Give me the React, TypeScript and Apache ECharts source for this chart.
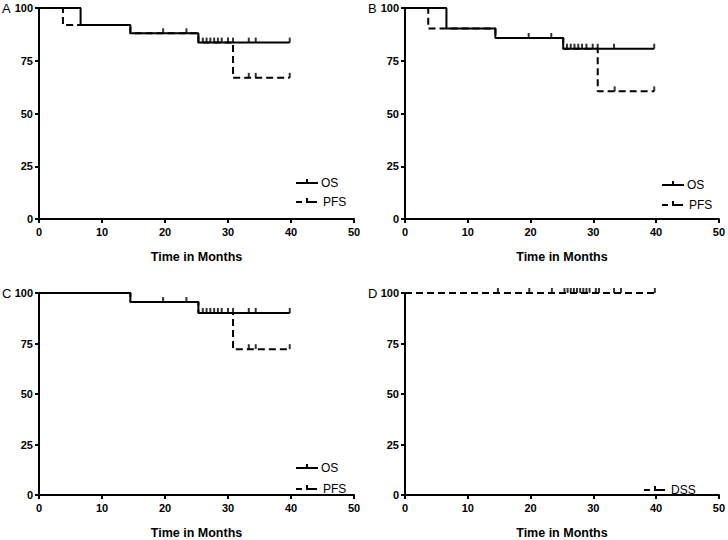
import React, { useEffect, useRef } from "react";
import * as echarts from "echarts";

// ---- Data (Kaplan–Meier steps: [month, survival %]) ----
const panelLetters = ["A", "B", "C", "D"];

const aOS = [[0, 100], [6.6, 92], [14.5, 88], [25.3, 83.6], [39.8, 83.6]];
const aPFS = [[0, 100], [3.8, 92], [14.5, 88], [25.3, 83.6], [30.8, 66.9], [39.8, 66.9]];
const aOSCensor = [[19.7, 88], [23.4, 88], [26.0, 83.6], [26.6, 83.6], [27.2, 83.6], [27.8, 83.6], [28.4, 83.6], [29.0, 83.6], [30.0, 83.6], [30.8, 83.6], [33.3, 83.6], [34.4, 83.6], [39.8, 83.6]];
const aPFSCensor = [[33.3, 66.9], [34.4, 66.9], [39.8, 66.9]];

const bOS = [[0, 100], [6.6, 90.3], [14.4, 85.8], [25.2, 80.7], [39.7, 80.7]];
const bPFS = [[0, 100], [3.7, 90.3], [14.4, 85.8], [25.2, 80.7], [30.7, 60.5], [39.7, 60.5]];
const bOSCensor = [[19.7, 85.8], [23.3, 85.8], [25.8, 80.7], [26.4, 80.7], [27.0, 80.7], [27.6, 80.7], [28.2, 80.7], [28.9, 80.7], [29.9, 80.7], [30.7, 80.7], [33.3, 80.7], [39.7, 80.7]];
const bPFSCensor = [[33.4, 60.5], [39.7, 60.5]];

const cOS = [[0, 100], [14.5, 95.5], [25.3, 90.1], [39.8, 90.1]];
const cPFS = [[0, 100], [14.5, 95.5], [25.3, 90.1], [30.8, 72.2], [39.8, 72.2]];
const cOSCensor = [[19.7, 95.5], [23.4, 95.5], [26.0, 90.1], [26.6, 90.1], [27.2, 90.1], [27.8, 90.1], [28.4, 90.1], [29.0, 90.1], [30.0, 90.1], [30.8, 90.1], [33.3, 90.1], [34.4, 90.1], [39.8, 90.1]];
const cPFSCensor = [[33.3, 72.2], [34.4, 72.2], [39.8, 72.2]];

const dDSS = [[0, 100], [39.8, 100]];
const dDSSCensor = [[14.8, 100], [19.8, 100], [23.4, 100], [25.4, 100], [25.9, 100], [26.4, 100], [26.9, 100], [27.4, 100], [27.9, 100], [28.4, 100], [28.9, 100], [29.4, 100], [30.4, 100], [30.9, 100], [33.3, 100], [34.4, 100], [39.8, 100]];

const xAxisTitle = "Time in Months";
const FONT = "Liberation Sans, Arial, Helvetica, sans-serif";

const grids = [
  { left: 39, top: 8, width: 315, height: 211 },
  { left: 405, top: 8, width: 315, height: 211 },
  { left: 39, top: 293, width: 315, height: 210 },
  { left: 405, top: 293, width: 315, height: 210 },
];

function solid(idx: number, name: string, data: number[][]) {
  return {
    type: "line", name, xAxisIndex: idx, yAxisIndex: idx, data, step: "end",
    symbol: "none", lineStyle: { color: "#000", width: 2 }, z: 4,
  };
}
function dashed(idx: number, name: string, data: number[][]) {
  return {
    type: "line", name, xAxisIndex: idx, yAxisIndex: idx, data, step: "end",
    symbol: "none", lineStyle: { color: "#000", width: 2, type: [7, 4] }, z: 3,
  };
}
function censor(idx: number, name: string, data: number[][]) {
  return {
    type: "scatter", name, xAxisIndex: idx, yAxisIndex: idx, data,
    symbol: "rect", symbolSize: [2, 5], symbolOffset: [0, -2.5],
    itemStyle: { color: "#000" }, z: 5,
  };
}

function legendItem(x: number, y: number, label: string, isDashed: boolean) {
  const ls = { stroke: "#000", lineWidth: 2 };
  const children: any[] = isDashed
    ? [
        { type: "line", shape: { x1: 0, y1: 0, x2: 6, y2: 0 }, style: ls },
        { type: "line", shape: { x1: 10, y1: 0, x2: 21, y2: 0 }, style: ls },
        { type: "line", shape: { x1: 11, y1: -4, x2: 11, y2: 0 }, style: ls },
      ]
    : [
        { type: "line", shape: { x1: 0, y1: 0, x2: 22, y2: 0 }, style: ls },
        { type: "line", shape: { x1: 11, y1: -4, x2: 11, y2: 0 }, style: ls },
      ];
  children.push({
    type: "text", x: isDashed ? 27 : 25, y: 0,
    style: { text: label, fontFamily: FONT, fontSize: 12, fill: "#000", textVerticalAlign: "middle", verticalAlign: "middle" },
  });
  return { type: "group", x, y, children };
}

export default function App() {
  const ref = useRef<HTMLDivElement>(null);
  useEffect(() => {
    if (!ref.current) return;
    const chart = echarts.init(ref.current, null, { renderer: "svg" });
    const axisLine = { show: true, onZero: false, lineStyle: { color: "#000", width: 2 } };
    const axisTick = { show: true, length: 4, lineStyle: { color: "#000", width: 2 } };
    const labelStyle = { fontFamily: FONT, fontWeight: "bold", fontSize: 11, color: "#000" };
    const option: any = {
      animation: false,
      backgroundColor: "#fff",
      grid: grids.map((g) => ({ ...g, containLabel: false })),
      xAxis: grids.map((_, i) => ({
        gridIndex: i, type: "value", min: 0, max: 50, interval: 10,
        axisLine, axisTick, splitLine: { show: false },
        axisLabel: { ...labelStyle, margin: 7 },
        name: xAxisTitle, nameLocation: "middle", nameGap: 31,
        nameTextStyle: { fontFamily: FONT, fontWeight: "bold", fontSize: 12.5, color: "#000" },
      })),
      yAxis: grids.map((_, i) => ({
        gridIndex: i, type: "value", min: 0, max: 100, interval: 25,
        axisLine, axisTick, splitLine: { show: false },
        axisLabel: { ...labelStyle, margin: 6 },
      })),
      series: [
        dashed(0, "PFS", aPFS), solid(0, "OS", aOS), censor(0, "OS censored", aOSCensor), censor(0, "PFS censored", aPFSCensor),
        dashed(1, "PFS", bPFS), solid(1, "OS", bOS), censor(1, "OS censored", bOSCensor), censor(1, "PFS censored", bPFSCensor),
        dashed(2, "PFS", cPFS), solid(2, "OS", cOS), censor(2, "OS censored", cOSCensor), censor(2, "PFS censored", cPFSCensor),
        dashed(3, "DSS", dDSS), censor(3, "DSS censored", dDSSCensor),
      ],
      graphic: [
        ...panelLetters.map((t, i) => ({
          type: "text", x: grids[i].left - 37, y: grids[i].top,
          style: { text: t, fontFamily: FONT, fontSize: 13, fill: "#000", textVerticalAlign: "middle", verticalAlign: "middle" },
        })),
        legendItem(296, 183, "OS", false),
        legendItem(296, 202, "PFS", true),
        legendItem(662, 185, "OS", false),
        legendItem(662, 205, "PFS", true),
        legendItem(296, 468, "OS", false),
        legendItem(296, 489, "PFS", true),
        legendItem(644, 490, "DSS", true),
      ],
    };
    chart.setOption(option);
    return () => chart.dispose();
  }, []);
  return <div ref={ref} style={{ position: "fixed", left: 0, top: 0, width: 728, height: 540 }} />;
}
